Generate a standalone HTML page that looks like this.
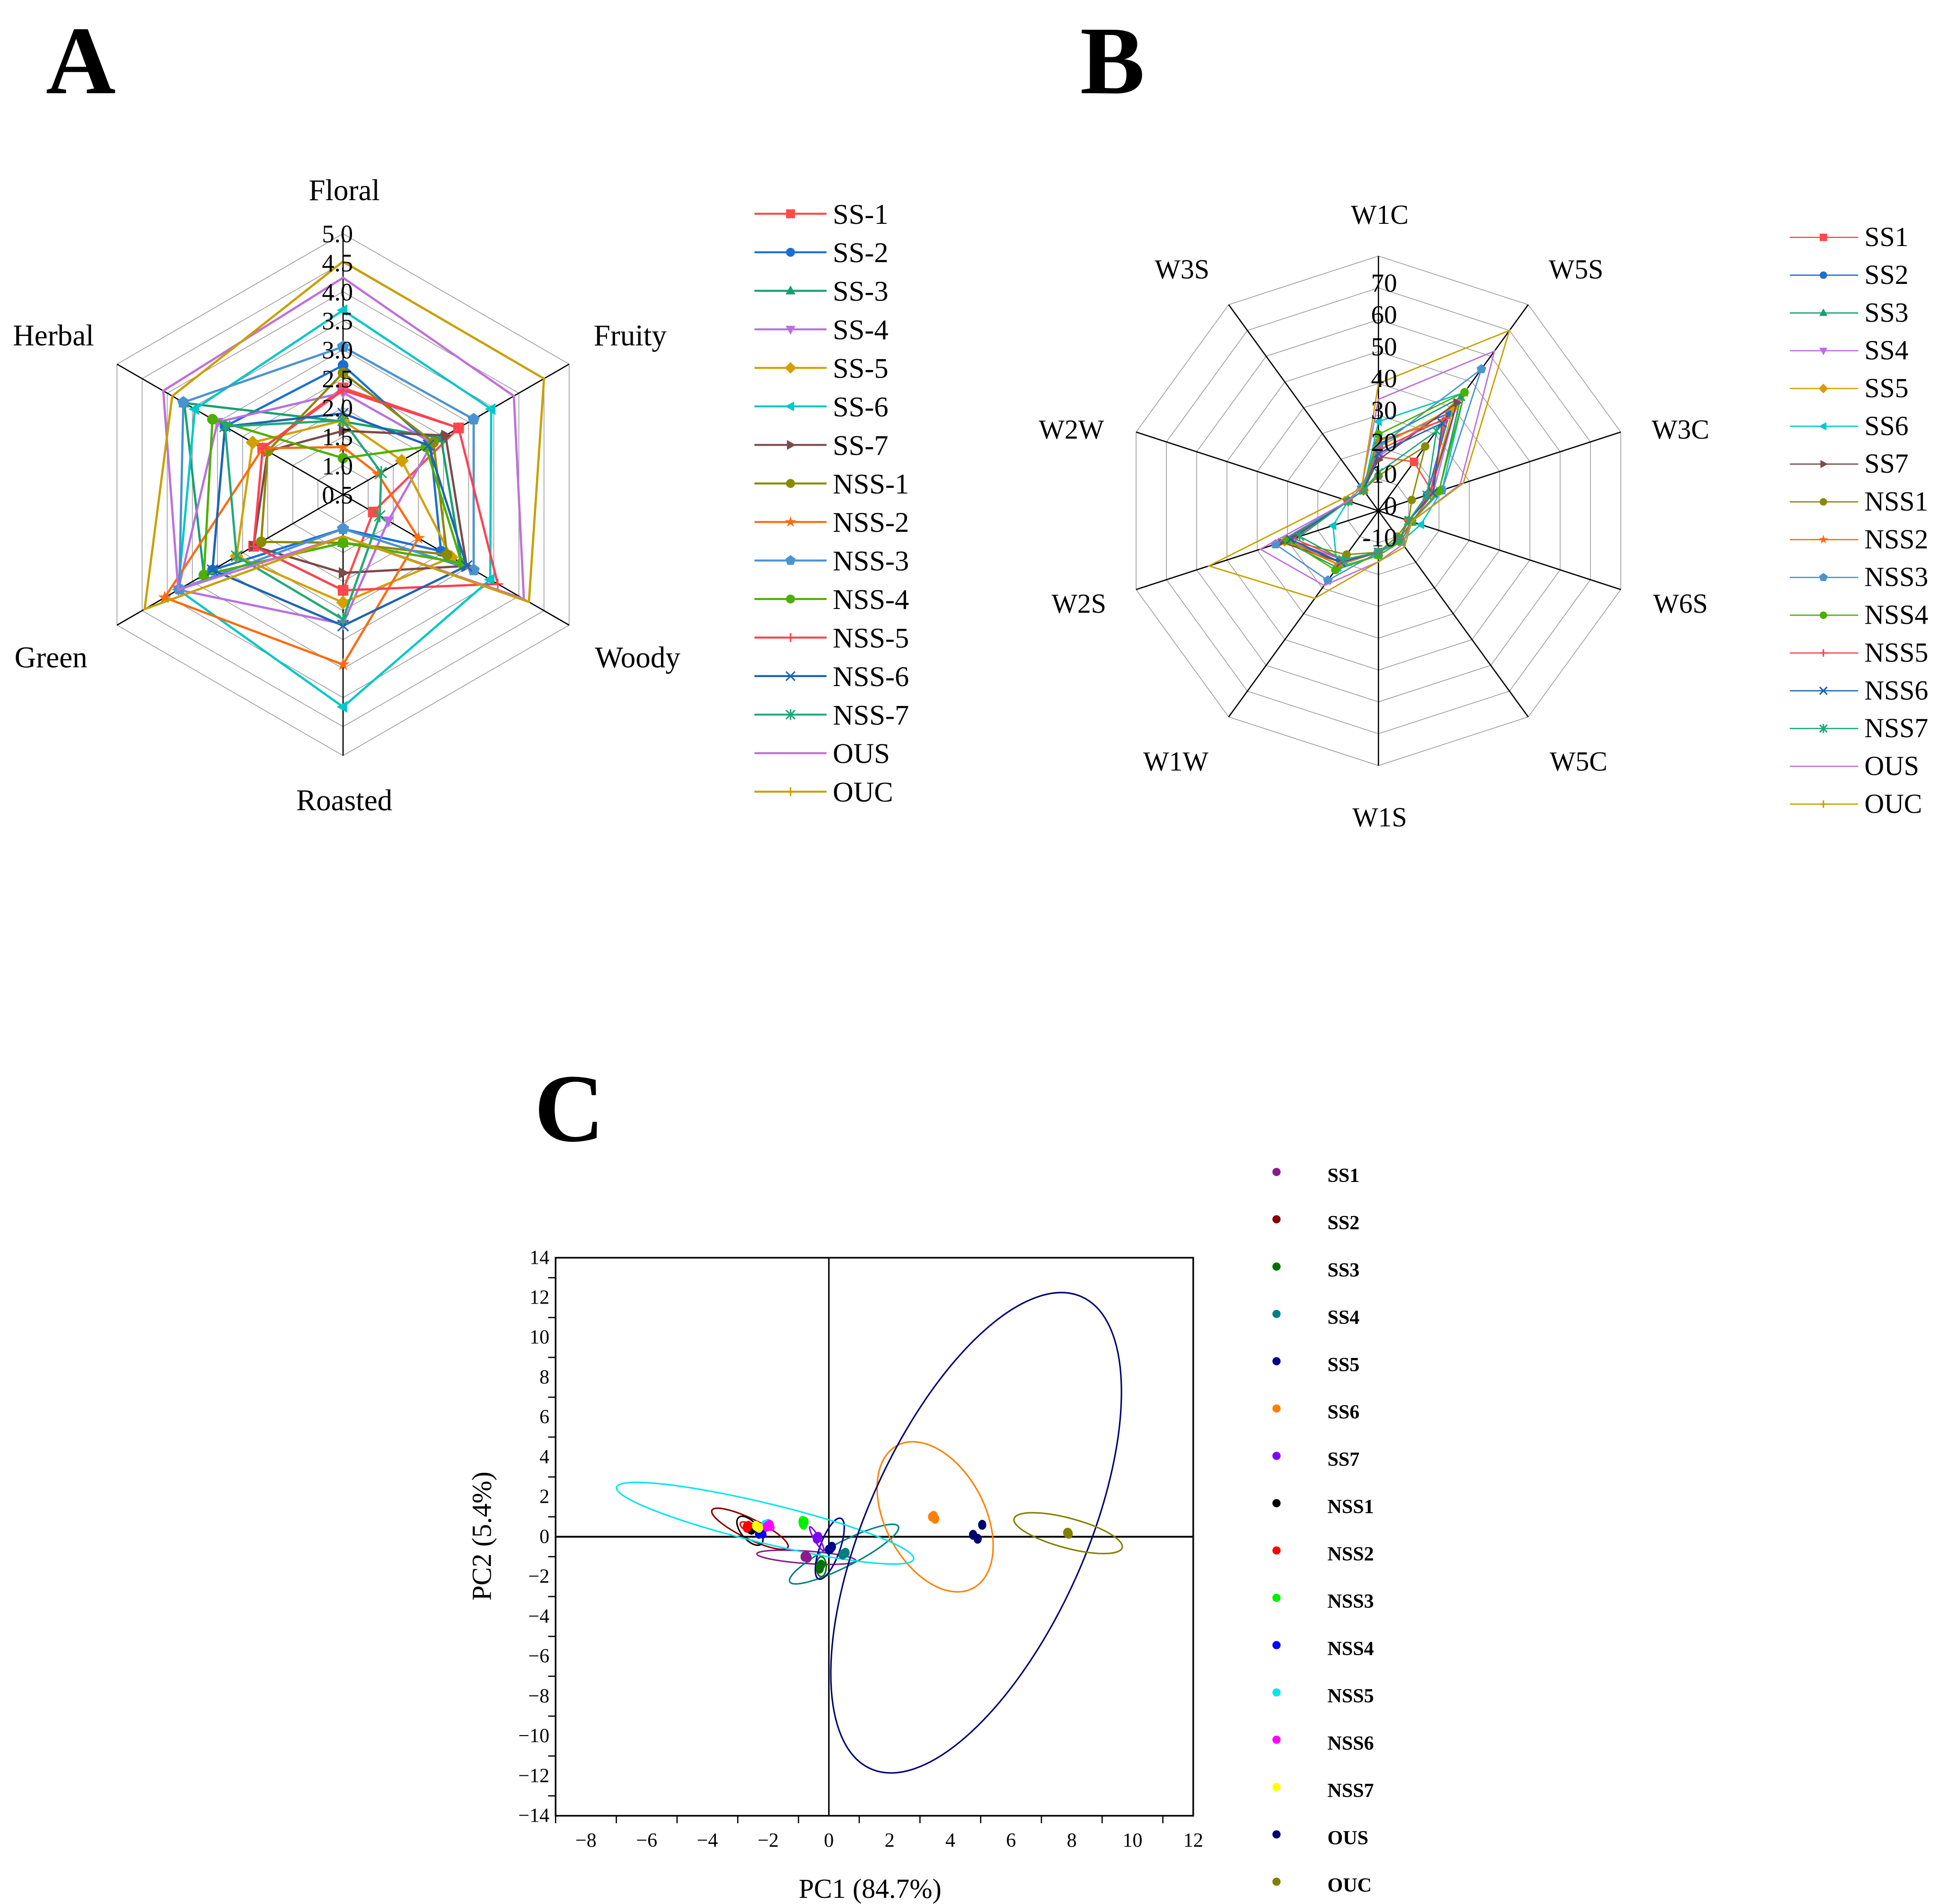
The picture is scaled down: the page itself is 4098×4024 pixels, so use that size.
<!DOCTYPE html>
<html><head><meta charset="utf-8">
<style>
html,body{margin:0;padding:0;background:#fff;}
svg{display:block;}
text{font-family:"Liberation Serif",serif;fill:#000;}
</style></head>
<body>
<svg id="fig" width="4098" height="4024" viewBox="0 0 1560 1532" preserveAspectRatio="none" xmlns="http://www.w3.org/2000/svg">
<rect width="1560" height="1532" fill="#fff"/>
<text x="65" y="75" font-size="78" font-weight="bold" text-anchor="middle">A</text>
<text x="895" y="75" font-size="78" font-weight="bold" text-anchor="middle">B</text>
<text x="458" y="918" font-size="78" font-weight="bold" text-anchor="middle">C</text>
<g id="pa"></g>
<g id="pb"></g>
<g id="pc"></g>
</svg>
<script>
// ---------- Panel A data ----------
const aAxes = ["Floral","Fruity","Woody","Roasted","Green","Herbal"];
const aTicks = ["0.5","1.0","1.5","2.0","2.5","3.0","3.5","4.0","4.5","5.0"];
const aSeries = ["SS-1","SS-2","SS-3","SS-4","SS-5","SS-6","SS-7","NSS-1","NSS-2","NSS-3","NSS-4","NSS-5","NSS-6","NSS-7","OUS","OUC"];
const aSS1 = [2.34,2.8,1.1,2.15,2.28,2.1];
const aSS2 = [2.73,2.24,2.45,1.09,3.1,2.85];
const aSS3 = [1.76,2.45,2.86,1.33,3.27,3.66];
const aSS4 = [2.26,2.28,1.4,2.73,3.78,3.0];
const aSS5 = [1.78,1.67,2.66,2.36,2.62,2.3];
const aSS6 = [3.68,3.45,3.43,4.16,3.78,3.45];
const aSS7 = [1.6,2.54,2.96,1.85,2.28,2.0];
const aNSS1 = [2.6,2.3,2.57,1.33,2.13,2.0];
const aNSS2 = [1.32,1.2,2.0,3.43,4.05,2.1];
const aNSS3 = [3.05,3.1,3.1,1.09,3.76,3.68];
const aNSS4 = [1.13,2.15,2.86,1.33,3.27,3.1];
const aNSS5 = [2.3,2.8,3.58,2.15,2.28,2.1];
const aNSS6 = [1.9,2.2,2.96,2.76,3.1,2.85];
const aNSS7 = [1.78,1.26,1.23,2.65,2.62,2.85];
const aOUS = [4.24,3.9,4.1,1.22,3.78,4.08];
const aOUC = [4.52,4.5,4.2,1.22,4.45,3.9];
const aValues = [aSS1,aSS2,aSS3,aSS4,aSS5,aSS6,aSS7,aNSS1,aNSS2,aNSS3,aNSS4,aNSS5,aNSS6,aNSS7,aOUS,aOUC];

// ---------- Panel B data ----------
const bAxes = ["W1C","W5S","W3C","W6S","W5C","W1S","W1W","W2S","W2W","W3S"];
const bTicks = ["-10","0","10","20","30","40","50","60","70"];
const bTickVals = [-10,0,10,20,30,40,50,60,70];
const bSeries = ["SS1","SS2","SS3","SS4","SS5","SS6","SS7","NSS1","NSS2","NSS3","NSS4","NSS5","NSS6","NSS7","OUS","OUC"];
const bSS1 = [17,19,18,11,11,13,20,30,10,8];
const bSS2 = [21,38,16,10,11,13,20,30,10,8];
const bSS3 = [22,44,20,11,12,14,22,31,10,8];
const bSS4 = [17,42,18,10,11,13,19,30,10,8];
const bSS5 = [20,40,17,10,11,13,21,31,10,8];
const bSS6 = [28,46,21,14,12,14,22,15,10,8];
const bSS7 = [16,42,17,10,11,13,20,32,10,8];
const bNSS1 = [11,25,11,10,10,13,17,30,10,8];
const bNSS2 = [22,35,18,10,11,13,21,30,10,8];
const bNSS3 = [20,55,21,11,12,13,27,34,10,9];
const bNSS4 = [24,46,20,11,12,14,23,30,10,8];
const bNSS5 = [19,36,17,10,11,13,19,28,10,8];
const bNSS6 = [18,34,18,10,11,13,20,29,10,8];
const bNSS7 = [12,31,16,10,11,13,19,26,10,8];
const bOUS = [35,62,27,11,13,16,29,39,10,9];
const bOUC = [40,70,28,11,14,16,34,56,12,9];
const bValues = [bSS1,bSS2,bSS3,bSS4,bSS5,bSS6,bSS7,bNSS1,bNSS2,bNSS3,bNSS4,bNSS5,bNSS6,bNSS7,bOUS,bOUC];

const colors = ["#ff4a4a","#1a6fd6","#14a070","#b870e0","#d4a000","#00c8c8","#7b4a4a","#8a8a00","#ff6a10","#4a93d0","#4cb000","#ff4050","#1c64b4","#20a878","#c070d8","#c8a000"];
const markers = ["square","circle","triup","tridown","diamond","trileft","triright","circle","star","pentagon","ball","plus","x","asterisk","none","plusthin"];

// ---------- Panel C data ----------
const cGroups = ["SS1","SS2","SS3","SS4","SS5","SS6","SS7","NSS1","NSS2","NSS3","NSS4","NSS5","NSS6","NSS7","OUS","OUC"];
const cColors = ["#8b1a8b","#8b0000","#007000","#008080","#000090","#ff8000","#8000ff","#000000","#ff0000","#00ee00","#0000ff","#00e5ee","#ff00ff","#ffff00","#000070","#808000"];
const cPX = [[-0.8,-0.7,-0.75],[-2.7,-2.6,-2.65],[-0.3,-0.25,-0.3],[0.5,0.55,0.45],[0.05,0.1,0.0],[3.4,3.5,3.45],[-0.4,-0.35,-0.4],[-2.6,-2.5,-2.55],[-2.7,-2.65,-2.7],[-0.85,-0.8,-0.85],[-2.2,-2.3,-2.25],[-2.1,-2.0,-2.05],[-2.0,-1.95,-2.05],[-2.35,-2.3,-2.4],[4.75,4.9,5.05],[7.85,7.9,7.88]];
const cPY = [[-1.0,-1.05,-0.95],[0.5,0.45,0.55],[-1.5,-1.4,-1.6],[-0.85,-0.8,-0.9],[-0.6,-0.5,-0.65],[1.0,0.9,1.05],[-0.05,0.0,-0.1],[0.4,0.45,0.35],[0.5,0.55,0.45],[0.7,0.75,0.65],[0.2,0.15,0.25],[0.6,0.65,0.55],[0.55,0.6,0.5],[0.5,0.45,0.55],[0.1,-0.1,0.6],[0.2,0.15,0.2]];
const cEllCX = [-0.74,-2.6,-0.25,0.5,0.03,3.5,-0.4,-2.6,-2.7,-0.85,-2.25,-2.1,-2.0,-2.35,4.85,7.88];
const cEllCY = [-1.03,0.4,-1.5,-0.87,-0.6,1.0,-0.1,0.3,0.5,0.7,0.2,0.68,0.55,0.5,0.2,0.18];
const cEllAng = [4,26,90,-27,-70,62,60,50,30,80,40,13.6,30,30,-65.9,15];
const cEllA = [40,34,8,49,26,65,11,14,6,5,5,123,5,4,208,45];
const cEllB = [5,8,4,10,8,40,2,7,3,3,3,16,3,2,88,12];
const cXTicks = [-8,-6,-4,-2,0,2,4,6,8,10,12];
const cYTicks = [14,12,10,8,6,4,2,0,-2,-4,-6,-8,-10,-12,-14];

const NS="http://www.w3.org/2000/svg";
function mk(tag, attrs, parent){const e=document.createElementNS(NS,tag);for(const k in attrs)e.setAttribute(k,attrs[k]);parent.appendChild(e);return e;}
function txt(s, attrs, parent){const e=mk("text",attrs,parent);e.textContent=s;return e;}

function drawMarker(g,type,x,y,c,s){
  let e;
  if(type==="square"){e=mk("rect",{x:x-s,y:y-s,width:2*s,height:2*s,fill:c},g);}
  else if(type==="circle"||type==="ball"){e=mk("circle",{cx:x,cy:y,r:s,fill:c},g);}
  else if(type==="triup"){e=mk("polygon",{points:`${x},${y-s*1.2} ${x+s*1.1},${y+s*0.8} ${x-s*1.1},${y+s*0.8}`,fill:c},g);}
  else if(type==="tridown"){e=mk("polygon",{points:`${x},${y+s*1.2} ${x+s*1.1},${y-s*0.8} ${x-s*1.1},${y-s*0.8}`,fill:c},g);}
  else if(type==="trileft"){e=mk("polygon",{points:`${x-s*1.2},${y} ${x+s*0.8},${y-s*1.1} ${x+s*0.8},${y+s*1.1}`,fill:c},g);}
  else if(type==="triright"){e=mk("polygon",{points:`${x+s*1.2},${y} ${x-s*0.8},${y-s*1.1} ${x-s*0.8},${y+s*1.1}`,fill:c},g);}
  else if(type==="diamond"){e=mk("polygon",{points:`${x},${y-s*1.3} ${x+s*1.3},${y} ${x},${y+s*1.3} ${x-s*1.3},${y}`,fill:c},g);}
  else if(type==="pentagon"){let p=[];for(let i=0;i<5;i++){const a=-Math.PI/2+i*2*Math.PI/5;p.push((x+s*1.2*Math.cos(a))+","+(y+s*1.2*Math.sin(a)));}e=mk("polygon",{points:p.join(" "),fill:c},g);}
  else if(type==="star"){let p=[];for(let i=0;i<10;i++){const a=-Math.PI/2+i*Math.PI/5;const r=i%2?s*0.5:s*1.3;p.push((x+r*Math.cos(a))+","+(y+r*Math.sin(a)));}e=mk("polygon",{points:p.join(" "),fill:c},g);}
  else if(type==="plus"||type==="plusthin"){e=mk("path",{d:`M${x-s} ${y}H${x+s}M${x} ${y-s}V${y+s}`,stroke:c,"stroke-width":1.2},g);}
  else if(type==="x"){e=mk("path",{d:`M${x-s} ${y-s}L${x+s} ${y+s}M${x-s} ${y+s}L${x+s} ${y-s}`,stroke:c,"stroke-width":1.2},g);}
  else if(type==="asterisk"){e=mk("path",{d:`M${x-s} ${y-s}L${x+s} ${y+s}M${x-s} ${y+s}L${x+s} ${y-s}M${x} ${y-s*1.2}V${y+s*1.2}`,stroke:c,"stroke-width":1.2},g);}
  if(e){
  }
}

// ===== Panel A =====
(function(){
  const g=document.getElementById("pa");
  const cx=276, cy=398, R=210;
  const ang=i=>(-90+60*i)*Math.PI/180;
  const rad=v=>(v-0.5)/4.5*R;
  for(let k=1;k<aTicks.length;k++){
    const r=rad(parseFloat(aTicks[k]));
    const pts=aAxes.map((_,i)=>(cx+r*Math.cos(ang(i)))+","+(cy+r*Math.sin(ang(i)))).join(" ");
    const p=mk("polygon",{points:pts,fill:"none",stroke:"#999","stroke-width":0.6},g);
    
    
  }
  const lpos=[[277,161],[507,278],[513,537],[277,652],[41,537],[43,278]];
  aAxes.forEach((n,i)=>{
    const l=mk("line",{x1:cx,y1:cy,x2:cx+R*Math.cos(ang(i)),y2:cy+R*Math.sin(ang(i)),stroke:"#000","stroke-width":1},g);
    
    
    const t=txt(n,{x:lpos[i][0],y:lpos[i][1],"font-size":24,"text-anchor":"middle"},g);
    
    
  });
  aValues.forEach((vals,s)=>{
    const pts=vals.map((v,i)=>[cx+rad(v)*Math.cos(ang(i)),cy+rad(v)*Math.sin(ang(i))]);
    const pg=mk("polygon",{points:pts.map(p=>p.join(",")).join(" "),fill:"none",stroke:colors[s],"stroke-width":1.8},g);
    
    
    if(markers[s]!=="none"&&markers[s]!=="plusthin") pts.forEach(p=>drawMarker(g,markers[s],p[0],p[1],colors[s],4.3));
  });
  aTicks.forEach(t=>{
    const y=cy-rad(parseFloat(t));
    const e=txt(t,{x:cx+8,y:y+7,"font-size":20,"text-anchor":"end"},g);
    
    
  });
  aSeries.forEach((n,s)=>{
    const y=172+s*31;
    const lg=mk("g",{},g);
    
    
    mk("line",{x1:607,y1:y,x2:665,y2:y,stroke:colors[s],"stroke-width":1.6},lg);
    if(markers[s]!=="none") drawMarker(lg,markers[s]==="plusthin"?"plus":markers[s],636,y,colors[s],3.6);
    txt(n,{x:670,y:y+8,"font-size":23},lg);
  });
})();

// ===== Panel B =====
(function(){
  const g=document.getElementById("pb");
  const cx=1109, cy=411, R=205, vmax=80;
  const ang=i=>(-90+36*i)*Math.PI/180;
  const rad=v=>Math.max(0,v)/vmax*R;
  for(let k=1;k<=8;k++){
    const r=R*k/8;
    const pts=bAxes.map((_,i)=>(cx+r*Math.cos(ang(i)))+","+(cy+r*Math.sin(ang(i)))).join(" ");
    const p=mk("polygon",{points:pts,fill:"none",stroke:"#999","stroke-width":0.6},g);
    
    
  }
  const lpos=[[1110,180],[1268,224],[1352,353],[1352,493],[1270,620],[1110,665],[946,620],[868,493],[862,353],[951,224]];
  bAxes.forEach((n,i)=>{
    const l=mk("line",{x1:cx,y1:cy,x2:cx+R*Math.cos(ang(i)),y2:cy+R*Math.sin(ang(i)),stroke:"#000","stroke-width":1},g);
    
    
    const t=txt(n,{x:lpos[i][0],y:lpos[i][1],"font-size":22,"text-anchor":"middle"},g);
    
    
  });
  bValues.forEach((vals,s)=>{
    const pts=vals.map((v,i)=>[cx+rad(v)*Math.cos(ang(i)),cy+rad(v)*Math.sin(ang(i))]);
    const pg=mk("polygon",{points:pts.map(p=>p.join(",")).join(" "),fill:"none",stroke:colors[s],"stroke-width":1.1},g);
    
    
    if(markers[s]!=="none"&&markers[s]!=="plusthin") pts.forEach(p=>drawMarker(g,markers[s],p[0],p[1],colors[s],3.4));
  });
  bTicks.forEach((t,k)=>{
    const y=cy-bTickVals[k]/vmax*R-4;
    const e=txt(t,{x:1124,y:y+7,"font-size":21,"text-anchor":"end"},g);
    
    
  });
  bSeries.forEach((n,s)=>{
    const y=191+s*30.4;
    const lg=mk("g",{},g);
    
    
    mk("line",{x1:1440,y1:y,x2:1495,y2:y,stroke:colors[s],"stroke-width":1},lg);
    if(markers[s]!=="none") drawMarker(lg,markers[s]==="plusthin"?"plus":markers[s],1467,y,colors[s],3);
    txt(n,{x:1500,y:y+7,"font-size":22},lg);
  });
})();

// ===== Panel C =====
(function(){
  const g=document.getElementById("pc");
  const L=447,Rr=960,T=1012,B=1461, xmin=-9,xmax=12,ymin=-14,ymax=14;
  const X=v=>L+(v-xmin)/(xmax-xmin)*(Rr-L);
  const Y=v=>B-(v-ymin)/(ymax-ymin)*(B-T);
  const fr=mk("rect",{x:L,y:T,width:Rr-L,height:B-T,fill:"none",stroke:"#000","stroke-width":1.3},g);
  
  
  const z1=mk("line",{x1:X(0),y1:T,x2:X(0),y2:B,stroke:"#000","stroke-width":1.2},g);
  
  
  const z2=mk("line",{x1:L,y1:Y(0),x2:Rr,y2:Y(0),stroke:"#000","stroke-width":1.5},g);
  
  
  for(let v=xmin;v<=xmax;v+=2){const t=mk("line",{x1:X(v),y1:B,x2:X(v),y2:B+6,stroke:"#000","stroke-width":1},g);
    
    }
  for(let v=-13;v<=13;v+=2){const t=mk("line",{x1:L-6,y1:Y(v),x2:L,y2:Y(v),stroke:"#000","stroke-width":1},g);
    
    }
  cXTicks.forEach(v=>{const t=txt((v<0?"\u2212":"")+Math.abs(v),{x:X(v),y:B+25,"font-size":16,"text-anchor":"middle"},g);
    
    });
  cYTicks.forEach(v=>{const t=txt((v<0?"\u2212":"")+Math.abs(v),{x:L-5,y:Y(v)+5,"font-size":16,"text-anchor":"end"},g);
    
    });
  const xt=txt("PC1 (84.7%)",{x:700,y:1527,"font-size":22,"text-anchor":"middle"},g);
  
  
  const yt=txt("PC2 (5.4%)",{x:0,y:0,"font-size":22,"text-anchor":"middle",transform:"translate(395,1236) rotate(-90)"},g);
  
  
  cGroups.forEach((n,s)=>{
    const e=mk("ellipse",{cx:X(cEllCX[s]),cy:Y(cEllCY[s]),rx:cEllA[s],ry:cEllB[s],fill:"none",stroke:cColors[s],"stroke-width":1.2,transform:`rotate(${cEllAng[s]} ${X(cEllCX[s])} ${Y(cEllCY[s])})`},g);
    
    
  });
  cGroups.forEach((n,s)=>{
    cPX[s].forEach((xv,k)=>{
      const p=mk("ellipse",{cx:X(xv),cy:Y(cPY[s][k]),rx:3.3,ry:4,fill:cColors[s]},g);
      
      
    });
  });
  cGroups.forEach((n,s)=>{
    const y=945+s*38.07;
    const lg=mk("g",{},g);
    
    
    mk("circle",{cx:1027,cy:y-2,r:3.3,fill:cColors[s]},lg);
    txt(n,{x:1068,y:y+6,"font-size":16,"font-weight":"bold"},lg);
  });
})();
</script>
</body></html>
